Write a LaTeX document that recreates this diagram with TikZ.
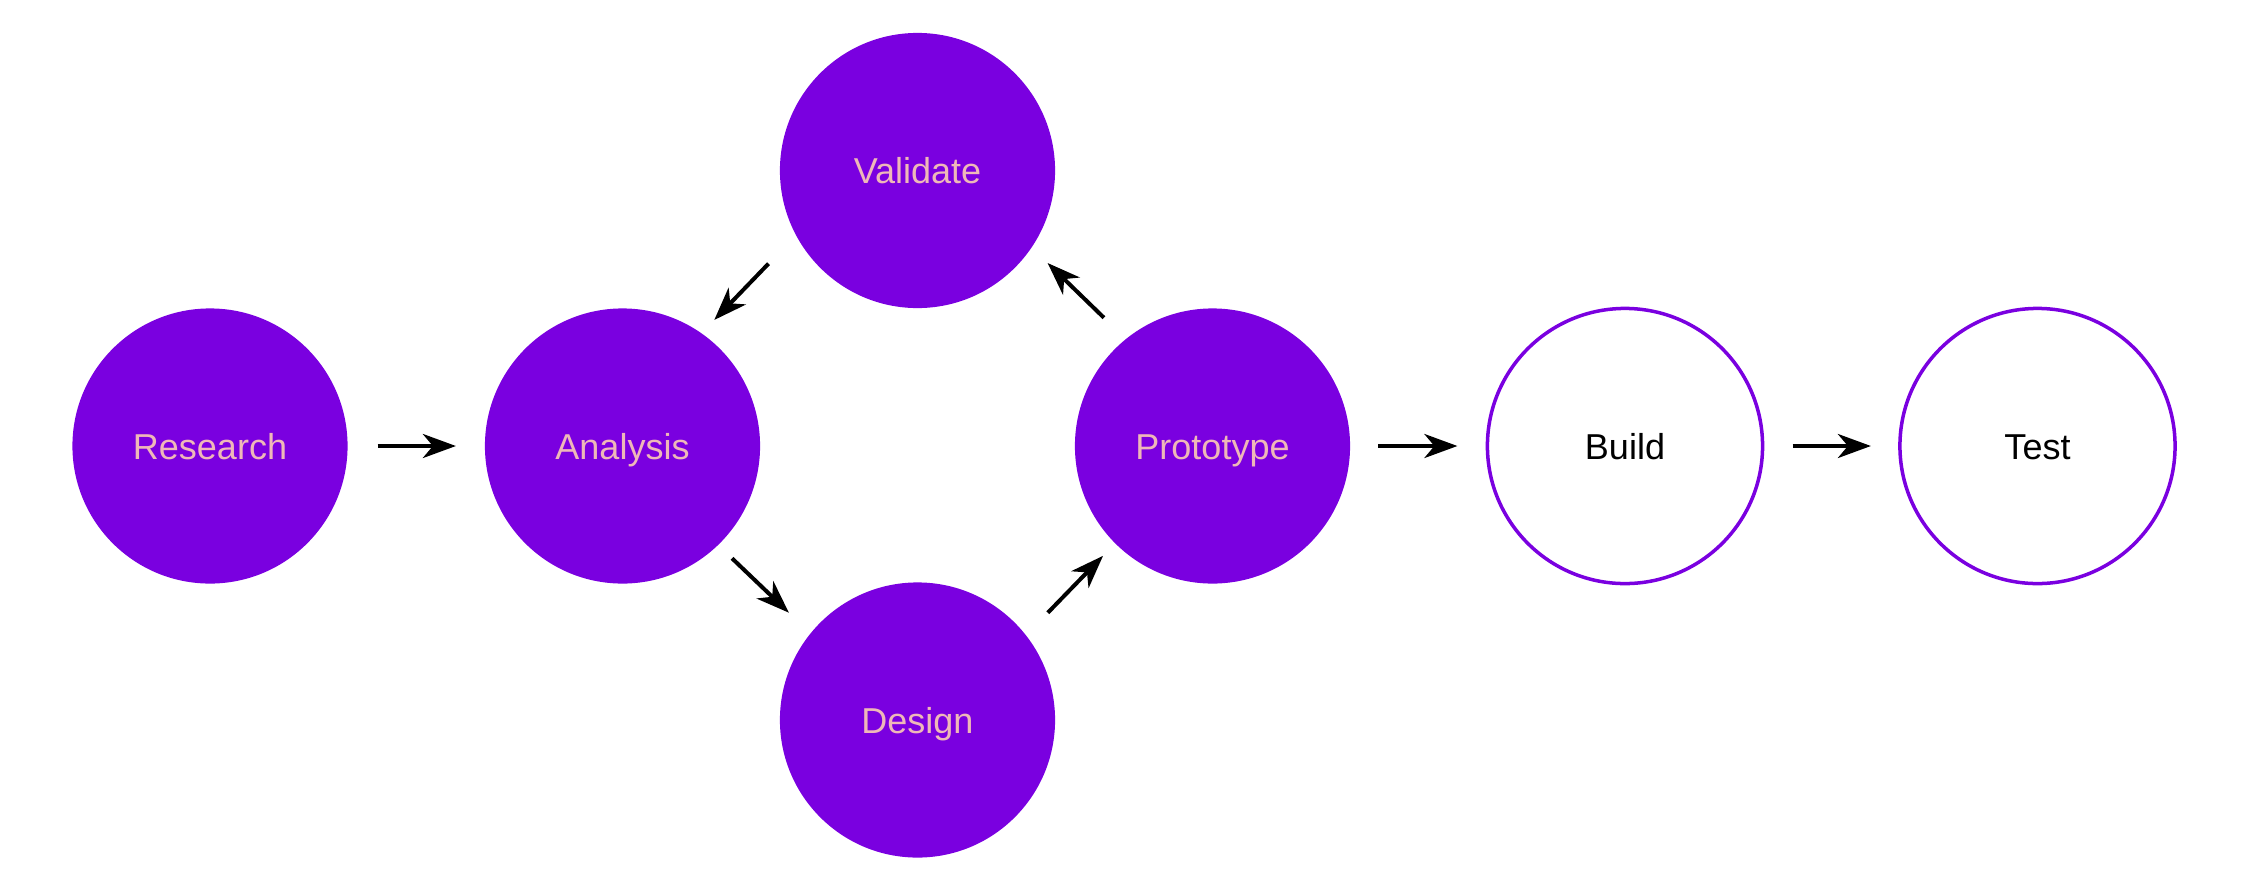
\documentclass[tikz,border=0pt]{standalone}
\usepackage{fontspec}
\setmainfont{Liberation Sans}
\usetikzlibrary{arrows.meta}
\definecolor{violetfill}{HTML}{7A00E0}
\definecolor{pinktext}{HTML}{EFB8B8}
\begin{document}
\begin{tikzpicture}[x=0.01cm,y=-0.01cm,
  stage/.style={circle,minimum size=2.75cm,inner sep=0pt,outer sep=0pt,
    text height=0.26cm,text depth=0pt,
    font=\fontsize{10.24pt}{12pt}\selectfont},
  filled/.style={stage,fill=violetfill,text=pinktext},
  open/.style={stage,draw=violetfill,line width=0.035cm,fill=white,text=black},
  flow/.style={line width=0.04cm,-{Stealth[length=0.33cm,width=0.24cm,inset=0.1cm]}}
]
\useasboundingbox (0,0) rectangle (2250,875);
\node[filled] (R) at (210,446) {Research};
\node[filled] (A) at (622.5,446) {Analysis};
\node[filled] (V) at (917.5,170.5) {Validate};
\node[filled] (D) at (917.5,720) {Design};
\node[filled] (P) at (1212.5,446) {Prototype};
\node[open] (B) at (1625,446) {Build};
\node[open] (T) at (2037.5,446) {Test};

\draw[flow,shorten <=0.30cm,shorten >=0.29cm] (R) -- (A);
\draw[flow,shorten <=0.3965cm,shorten >=0.1855cm] (V.208) -- (A.55.9);
\draw[flow,shorten <=0.193cm,shorten >=0.30cm] (A.314.5) -- (D.141.6);
\draw[flow,shorten <=0.314cm,shorten >=0.175cm] (D.38.2) -- (P.225.65);
\draw[flow,shorten <=0.306cm,shorten >=0.224cm] (P.129.5) -- (V.326.3);
\draw[flow,shorten <=0.28cm,shorten >=0.30cm] (P) -- (B);
\draw[flow,shorten <=0.30cm,shorten >=0.29cm] (B) -- (T);
\end{tikzpicture}
\end{document}
